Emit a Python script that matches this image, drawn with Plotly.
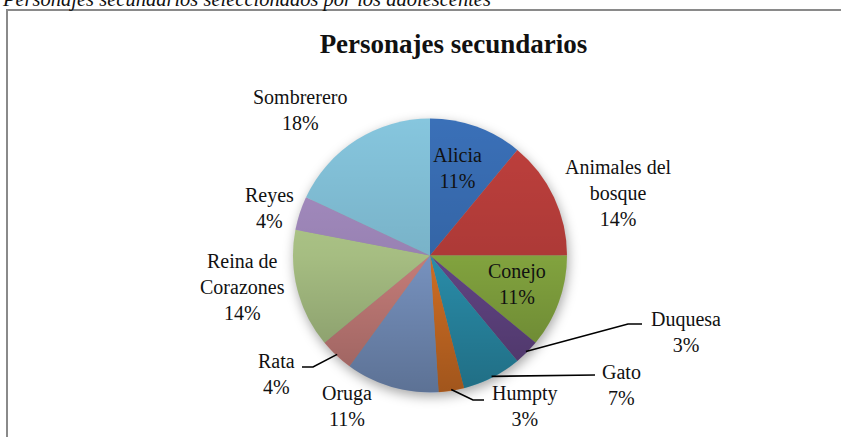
import math
import base64
import plotly.graph_objects as go

# ---------------- data ----------------
categories = ["Alicia", "Animales del bosque", "Conejo", "Duquesa", "Gato", "Humpty",
              "Oruga", "Rata", "Reina de Corazones", "Reyes", "Sombrerero"]
values = [11, 14, 11, 3, 7, 3, 11, 4, 14, 4, 18]
label_lines = ["Alicia", "Animales del<br>bosque", "Conejo", "Duquesa", "Gato", "Humpty",
               "Oruga", "Rata", "Reina de<br>Corazones", "Reyes", "Sombrerero"]
title_text = "Personajes secundarios"
caption_text = "Personajes secundarios seleccionados por los adolescentes"

# ---------------- style / layout ----------------
W, H = 841, 437
colors = ["#3A70B8", "#C0403D", "#90B545", "#6C4C92", "#2E9CBC", "#E67A28",
          "#84A2D4", "#DA8A86", "#B8D290", "#A990C6", "#86C6DE"]
CX, CY, R = 430, 255.5, 137
FONT = "Liberation Serif"

# label centres (px) in chart layout
label_pos = [(457, 168), (618, 193), (517, 284), (686, 332), (621, 385), (525, 406),
             (347, 406), (276, 374), (242, 287), (269, 208), (300, 110)]
# leader lines: category -> elbow/end points (px)
leaders = {"Duquesa": [(628, 324), (642, 324)],
           "Gato": [(595, 375)],
           "Humpty": [(473, 400), (484, 400)],
           "Rata": [(313, 367), (302, 367)]}


def px(x):
    return x / W


def py(y):
    return 1 - y / H


fig = go.Figure()

# shadow + gradient overlays
shadow_svg = ("<svg xmlns='http://www.w3.org/2000/svg' viewBox='-20 -20 140 140'>"
              "<defs><filter id='b' x='-50%' y='-50%' width='200%' height='200%'>"
              "<feGaussianBlur stdDeviation='2.2'/></filter></defs>"
              "<circle cx='50.5' cy='51.5' r='50' fill='#000' fill-opacity='0.35' filter='url(#b)'/></svg>")
grad_svg = ("<svg xmlns='http://www.w3.org/2000/svg' viewBox='0 0 100 100'>"
            "<defs><linearGradient id='g' x1='0' y1='0' x2='0' y2='1'>"
            "<stop offset='0' stop-color='#000000' stop-opacity='0.0'/>"
            "<stop offset='0.5' stop-color='#000000' stop-opacity='0.10'/>"
            "<stop offset='1' stop-color='#000000' stop-opacity='0.30'/>"
            "</linearGradient></defs>"
            "<circle cx='50' cy='50' r='50' fill='url(#g)'/></svg>")


def uri(svg):
    return "data:image/svg+xml;base64," + base64.b64encode(svg.encode()).decode()


S = R * 140 / 100
images = [
    dict(source=uri(shadow_svg), xref="paper", yref="paper",
         x=px(CX - S), y=py(CY - S), sizex=2 * S / W, sizey=2 * S / H,
         sizing="stretch", layer="below", xanchor="left", yanchor="top"),
    dict(source=uri(grad_svg), xref="paper", yref="paper",
         x=px(CX - R), y=py(CY - R), sizex=2 * R / W, sizey=2 * R / H,
         sizing="stretch", layer="above", xanchor="left", yanchor="top"),
]

fig.add_trace(go.Pie(
    labels=categories, values=values, sort=False, direction="clockwise", rotation=0,
    marker=dict(colors=colors, line=dict(width=0)),
    textinfo="none", hoverinfo="label+percent", showlegend=False,
    domain=dict(x=[px(CX - R), px(CX + R)], y=[py(CY + R), py(CY - R)]),
))

# labels
total = sum(values)
annotations = []
for cat, lines, v, (lx, ly) in zip(categories, label_lines, values, label_pos):
    pct = round(100 * v / total)
    annotations.append(dict(
        text=f"{lines}<br>{pct}%", x=px(lx), y=py(ly), xref="paper", yref="paper",
        xanchor="center", yanchor="middle", showarrow=False, align="center",
        font=dict(family=FONT, size=20, color="#111111")))

annotations.append(dict(
    text=f"<i>{caption_text}</i>", x=px(1), y=py(12), xref="paper", yref="paper",
    xanchor="left", yanchor="bottom", showarrow=False, borderpad=0,
    font=dict(family=FONT, size=20.5, color="#111111")))

# leader lines computed from slice mid angles
shapes = []
cum = 0
mids = {}
for cat, v in zip(categories, values):
    mids[cat] = (cum + v / 2) / total * 2 * math.pi
    cum += v
for cat, pts in leaders.items():
    a = mids[cat]
    sx = CX + 0.99 * R * math.sin(a)
    sy = CY - 0.99 * R * math.cos(a)
    path = f"M {px(sx)} {py(sy)}"
    for (x, y) in pts:
        path += f" L {px(x)} {py(y)}"
    shapes.append(dict(type="path", path=path, xref="paper", yref="paper",
                       line=dict(color="#000000", width=1.6)))

# chart frame (left and top edges visible)
shapes.append(dict(type="path", path=f"M {px(7)} {py(437)} L {px(7)} {py(10)} L {px(841)} {py(10)}",
                   xref="paper", yref="paper", line=dict(color="#8a8a8a", width=2)))

fig.update_layout(
    width=W, height=H, margin=dict(l=0, r=0, t=0, b=0),
    paper_bgcolor="white", plot_bgcolor="white",
    title=dict(text=f"<b>{title_text}</b>", x=px(453.5), y=py(44), xanchor="center",
               yanchor="middle", font=dict(family=FONT, size=27, color="#111111")),
    annotations=annotations, shapes=shapes, images=images,
)

fig.write_html("out.html", config={"displayModeBar": False},
               post_script="document.body.style.margin='0';document.body.style.padding='0';"
                           "document.documentElement.style.overflow='hidden';")
